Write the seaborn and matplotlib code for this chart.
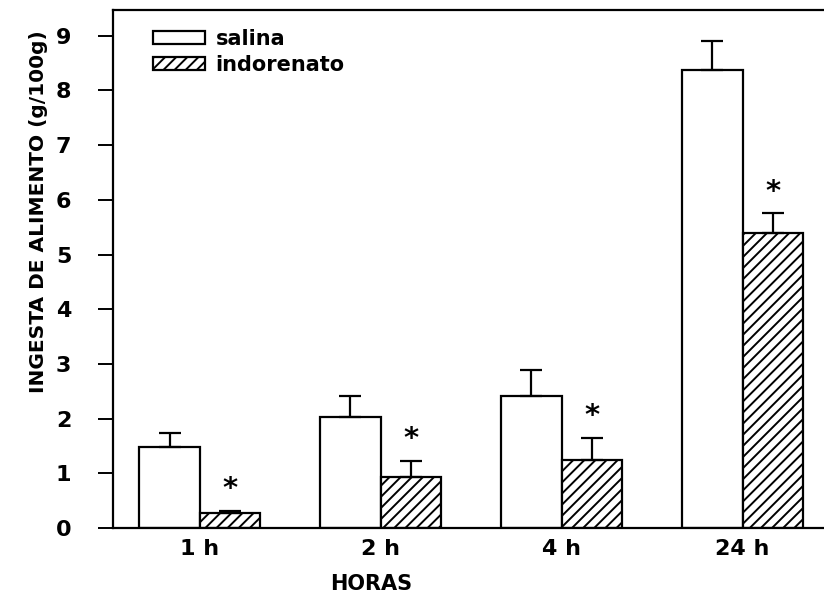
import matplotlib
matplotlib.use("Agg")
import matplotlib.pyplot as plt
import seaborn as sns
import pandas as pd

horas = ["1 h", "2 h", "4 h", "24 h"]
grupos = ["salina", "indorenato"]
salina = [1.48, 2.03, 2.41, 8.37]
salina_err = [0.26, 0.38, 0.47, 0.54]
indorenato = [0.27, 0.94, 1.24, 5.39]
indorenato_err = [0.04, 0.29, 0.41, 0.36]
significativo = [True, True, True, True]
yticks = [0, 1, 2, 3, 4, 5, 6, 7, 8, 9]

sns.set_theme(style="white")
plt.rcParams["font.family"] = ["DejaVu Sans"]
plt.rcParams["hatch.linewidth"] = 1.4
plt.rcParams["hatch.color"] = "black"
plt.rcParams["text.color"] = "black"
plt.rcParams["axes.labelcolor"] = "black"
plt.rcParams["xtick.color"] = "black"
plt.rcParams["ytick.color"] = "black"

df = pd.DataFrame({
    "hora": horas * 2,
    "grupo": [grupos[0]] * 4 + [grupos[1]] * 4,
    "valor": salina + indorenato,
})

fig = plt.figure(figsize=(8.24, 5.97), dpi=100)
ax = fig.add_axes([113 / 824, 1 - 528 / 597, 1 - 113 / 824, (528 - 10) / 597])

sns.barplot(data=df, x="hora", y="valor", hue="grupo", order=horas, hue_order=grupos,
            palette={"salina": "white", "indorenato": "white"}, edgecolor="black",
            linewidth=1.6, width=0.67, errorbar=None, ax=ax, saturation=1)

bar_containers = list(ax.containers[:2])
for p in bar_containers[1]:
    p.set_hatch("///")

errs = [salina_err, indorenato_err]
for ci, cont in enumerate(bar_containers):
    for i, p in enumerate(cont):
        x = p.get_x() + p.get_width() / 2
        h = p.get_height()
        ax.errorbar([x], [h], yerr=[[0], [errs[ci][i]]], fmt="none", ecolor="black",
                    elinewidth=1.6, capsize=8, capthick=1.6, zorder=1)
        if ci == 1 and significativo[i]:
            ax.text(x, h + errs[ci][i] + 0.40, "*", ha="center", va="center",
                    fontsize=21, fontweight="bold", color="black")

ax.set_ylim(0, 9.47)
ax.set_xlim(-0.48, 3.45)
ax.set_yticks(yticks)
ax.set_yticklabels([str(t) for t in yticks], fontsize=16, fontweight="bold")
ax.set_xticks(range(len(horas)))
ax.set_xticklabels(horas, fontsize=16, fontweight="bold")
ax.tick_params(axis="y", direction="out", length=11, width=1.4, pad=19, left=True)
ax.tick_params(axis="x", length=0, pad=8)

ax.set_ylabel("INGESTA DE ALIMENTO (g/100g)", fontsize=14.5, fontweight="bold")
ax.yaxis.set_label_coords(-0.092, 0.61)
ax.set_xlabel("HORAS", fontsize=15, fontweight="bold")
ax.xaxis.set_label_coords(0.363, -0.088)

for s in ["left", "bottom", "top"]:
    ax.spines[s].set_visible(True)
    ax.spines[s].set_color("black")
    ax.spines[s].set_linewidth(1.6)
ax.spines["right"].set_visible(False)

handles = [bar_containers[0][0], bar_containers[1][0]]
leg = ax.legend(handles=handles, labels=grupos, loc="upper left",
                bbox_to_anchor=(0.030, 1.0), frameon=False, handlelength=2.5,
                handleheight=0.6, handletextpad=0.5, labelspacing=0.3,
                prop={"size": 15, "weight": "bold"})

fig.savefig("out.png", dpi=100, facecolor="white")
